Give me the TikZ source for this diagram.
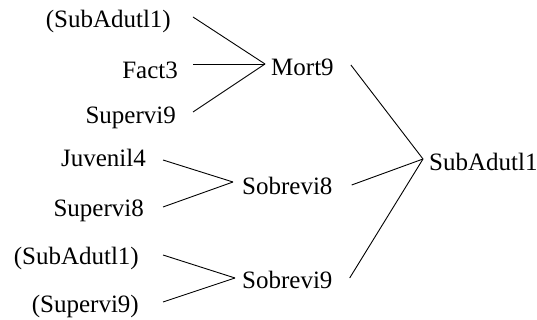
\documentclass[tikz,border=0pt]{standalone}
\usepackage{fontspec}
\setmainfont{Liberation Serif}
\begin{document}
\begin{tikzpicture}[x=1pt,y=1pt,
  lbl/.style={inner sep=0pt,font=\fontsize{25}{28}\selectfont},
  src/.style={lbl,anchor=base east},
  dst/.style={lbl,anchor=base west},
  conn/.style={draw=black,line width=0.9pt}]
\useasboundingbox (0,0) rectangle (537,320);
% sources
\node[src] (s1) at (171,292) {(SubAdutl1)};
\node[src] (f3) at (178,241) {Fact3};
\node[src] (sv9) at (176,196) {Supervi9};
\node[src] (j4) at (146,153) {Juvenil4};
\node[src] (sv8) at (144,103) {Supervi8};
\node[src] (s2) at (139,55) {(SubAdutl1)};
\node[src] (sv9b) at (139,7) {(Supervi9)};
% intermediate
\node[dst] (mort) at (271,244) {Mort9};
\node[dst] (sob8) at (242,125) {Sobrevi8};
\node[dst] (sob9) at (242,31) {Sobrevi9};
\node[dst] (sub) at (429,149) {SubAdutl1};
% connectors
\draw[conn] ([shift={(22,11)}]s1.base east) -- ([shift={(-6,12)}]mort.base west);
\draw[conn] ([shift={(15,15)}]f3.base east) -- ([shift={(-6,12)}]mort.base west);
\draw[conn] ([shift={(17,12)}]sv9.base east) -- ([shift={(-6,12)}]mort.base west);
\draw[conn] ([shift={(17,7)}]j4.base east) -- ([shift={(-9,13)}]sob8.base west);
\draw[conn] ([shift={(19,10)}]sv8.base east) -- ([shift={(-9,13)}]sob8.base west);
\draw[conn] ([shift={(24,10)}]s2.base east) -- ([shift={(-7,11)}]sob9.base west);
\draw[conn] ([shift={(24,11)}]sv9b.base east) -- ([shift={(-7,11)}]sob9.base west);
\draw[conn] ([shift={(17,11)}]mort.base east) -- ([shift={(-6,12)}]sub.base west);
\draw[conn] ([shift={(19,10)}]sob8.base east) -- ([shift={(-6,12)}]sub.base west);
\draw[conn] ([shift={(17,11)}]sob9.base east) -- ([shift={(-6,12)}]sub.base west);
\end{tikzpicture}
\end{document}
